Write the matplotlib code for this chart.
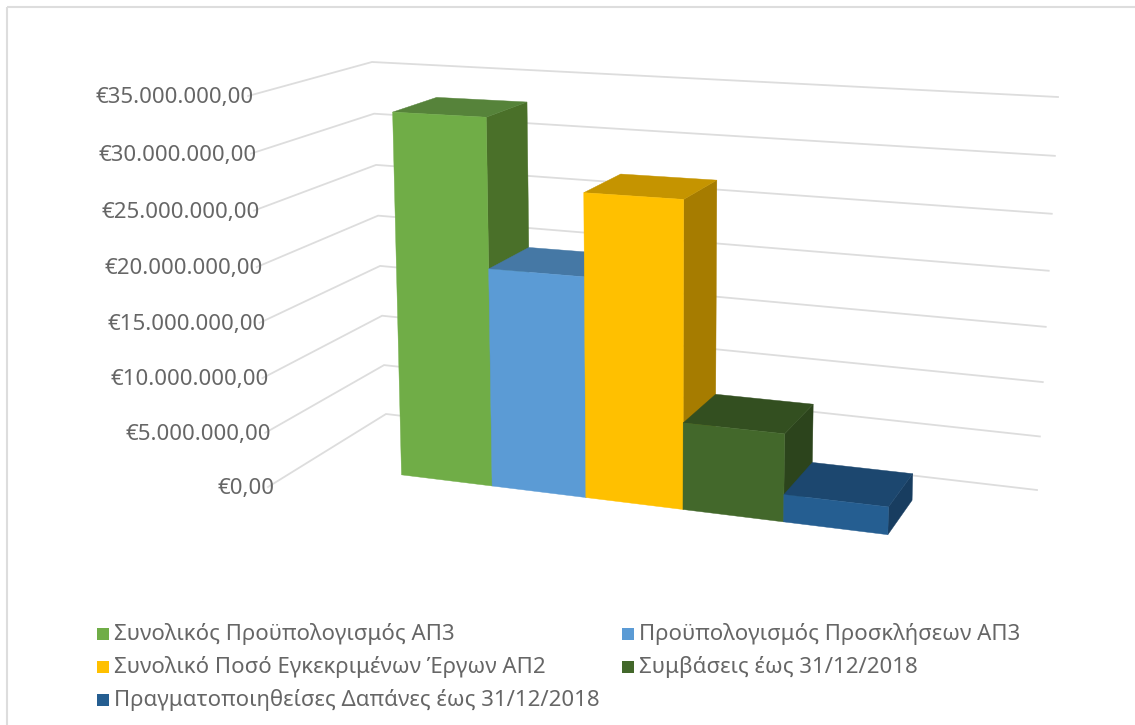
import numpy as np
import matplotlib
matplotlib.use("Agg")
import matplotlib.pyplot as plt
from matplotlib.patches import Polygon, Rectangle

plt.rcParams['font.family'] = ['Noto Sans', 'DejaVu Sans']

# data
series = ["Συνολικός Προϋπολογισμός ΑΠ3", "Προϋπολογισμός Προσκλήσεων ΑΠ3",
          "Συνολικό Ποσό Εγκεκριμένων Έργων ΑΠ2", "Συμβάσεις έως 31/12/2018",
          "Πραγματοποιηθείσες Δαπάνες έως 31/12/2018"]
values = [33.0, 19.7, 27.0, 7.7, 2.4]  # millions of euro
ticks = [0, 5, 10, 15, 20, 25, 30, 35]
tick_labels = ["€0,00", "€5.000.000,00", "€10.000.000,00", "€15.000.000,00",
               "€20.000.000,00", "€25.000.000,00", "€30.000.000,00", "€35.000.000,00"]

# colours: front, top, side
front = ["#70AD47", "#5B9BD5", "#FFC000", "#43682B", "#255E91"]
top = ["#56833A", "#4578A5", "#C59400", "#334F20", "#1C476F"]
side = ["#4A7029", "#3A6A94", "#A67C00", "#2C441C", "#183D60"]
grid_col = "#DDDDDD"
text_col = "#666666"


# camera: (slot, value, depth) -> pixel, fitted on the corners seen in the picture
calib = [
    (0, 0, 0, 402, 475), (1, 0, 0, 493, 486), (2, 0, 0, 585, 498),
    (3, 0, 0, 683, 510), (4, 0, 0, 783, 523), (5, 0, 0, 887, 536), (5, 0, 1, 911, 502),
    (0, values[0], 0, 391, 113), (1, values[0], 0, 486, 119),
    (0, values[0], 1, 435, 99), (1, values[0], 1, 527, 104),
    (1, values[1], 0, 489, 267), (1, values[1], 1, 528, 245),
    (2, values[2], 0, 584, 192), (3, values[2], 0, 685, 198),
    (2, values[2], 1, 622, 173), (3, values[2], 1, 718, 180),
    (3, values[3], 0, 685, 422), (4, values[3], 0, 785, 432),
    (3, values[3], 1, 717, 393), (4, values[3], 1, 813, 403),
    (4, values[4], 0, 784, 495), (5, values[4], 0, 887, 507),
    (4, values[4], 1, 813, 463), (5, values[4], 1, 912, 474),
]
A, b = [], []
for x, y, z, u, v in calib:
    A.append([x, y, z, 1, 0, 0, 0, 0, -u * x, -u * y, -u * z])
    b.append(u)
    A.append([0, 0, 0, 0, x, y, z, 1, -v * x, -v * y, -v * z])
    b.append(v)
cam = np.linalg.lstsq(np.array(A, float), np.array(b, float), rcond=None)[0]
cam = np.append(cam, 1).reshape(3, 4)


def project(x, y, z):
    p = cam @ np.array([x, y, z, 1.0])
    return p[0] / p[2], p[1] / p[2]


def wall_map(corners):
    # homography from (t, value) with t in 0..1 and value 0..35 to pixels
    A, b = [], []
    for x, y, u, v in corners:
        A.append([x, y, 1, 0, 0, 0, -u * x, -u * y])
        b.append(u)
        A.append([0, 0, 0, x, y, 1, -v * x, -v * y])
        b.append(v)
    h = np.append(np.linalg.solve(np.array(A, float), np.array(b, float)), 1).reshape(3, 3)

    def f(t, val):
        p = h @ np.array([t, val, 1.0])
        return p[0] / p[2], p[1] / p[2]
    return f


back_wall = wall_map([(0, 0, 386, 414), (1, 0, 1037, 490), (0, 35, 372, 62), (1, 35, 1058, 97)])
left_wall = wall_map([(0, 0, 268, 487), (1, 0, 386, 414), (0, 35, 248, 96), (1, 35, 372, 62)])

fig = plt.figure(figsize=(11.35, 7.25), dpi=100)
ax = fig.add_axes([0, 0, 1, 1])
ax.set_xlim(0, 1135)
ax.set_ylim(725, 0)
ax.axis('off')

# chart frame, runs off the image on the right and the bottom
ax.add_patch(Rectangle((7, 6.5), 1140, 740, fill=False, ec=grid_col, lw=1.5))

# gridlines on the two walls
for t, lab in zip(ticks, tick_labels):
    pts = [left_wall(0, t), left_wall(1, t), back_wall(1, t)]
    ax.plot([p[0] for p in pts], [p[1] for p in pts], color=grid_col, lw=1.3,
            solid_joinstyle='miter', zorder=1)
    ax.text(pts[0][0] + 6, pts[0][1] + 1.5, lab, ha='right', va='center',
            fontsize=16, color=text_col)

# bars left to right so each one covers the hidden part of the previous
for i, val in enumerate(values):
    faces = [
        ([(i + 1, 0, 0), (i + 1, 0, 1), (i + 1, val, 1), (i + 1, val, 0)], side[i]),
        ([(i, val, 0), (i + 1, val, 0), (i + 1, val, 1), (i, val, 1)], top[i]),
        ([(i, 0, 0), (i + 1, 0, 0), (i + 1, val, 0), (i, val, 0)], front[i]),
    ]
    for corners, col in faces:
        ax.add_patch(Polygon([project(*c) for c in corners], closed=True, fc=col, ec=col,
                             lw=0.3, zorder=2))

# legend
legend_x = [97, 622, 97, 622, 97]
legend_y = [634, 634, 667, 667, 700]
for name, col, lx, ly in zip(series, front, legend_x, legend_y):
    ax.add_patch(Rectangle((lx, ly - 6), 12, 12, fc=col, ec='none'))
    ax.text(lx + 17, ly, name, ha='left', va='center', fontsize=16, color=text_col)

fig.savefig("out.png", dpi=100)
